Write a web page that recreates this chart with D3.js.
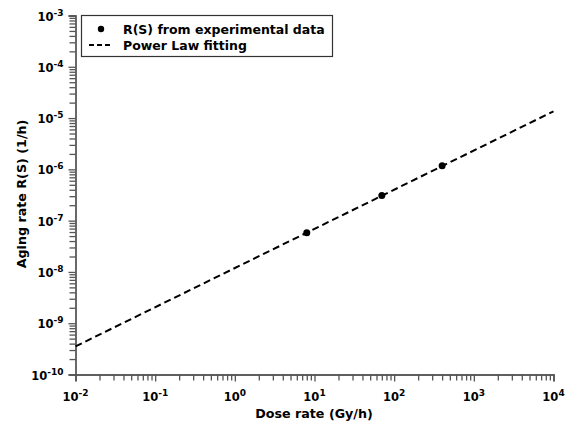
<!DOCTYPE html>
<html><head><meta charset="utf-8">
<script src="https://cdn.jsdelivr.net/npm/d3@7"></script>
<style>body{margin:0;background:#fff}svg{display:block}text{font-family:"DejaVu Sans",Verdana,sans-serif;font-weight:bold}</style>
</head><body>
<script>
const doseRate = [8, 70, 400];
const agingRate = [5.8e-8, 3.1e-7, 1.17e-6];
const fitA = 1.19e-8, fitB = 0.764;
const fitX = [1e-2, 1e4];
const xTickExp = [-2, -1, 0, 1, 2, 3, 4];
const yTickExp = [-10, -9, -8, -7, -6, -5, -4, -3];
const legendLabels = ["R(S) from experimental data", "Power Law fitting"];

const W = 578, H = 425;
const m = {l: 75.5, r: 25, t: 15.5, b: 51.5};
const svg = d3.select("body").append("svg").attr("width", W).attr("height", H);
const x = d3.scaleLog().domain([1e-2, 1e4]).range([m.l, 553.5]);
const y = d3.scaleLog().domain([1e-10, 1e-3]).range([374.5, m.t]);

const minorX = [], minorY = [];
for (let e = -2; e < 4; e++) for (let k = 2; k <= 9; k++) minorX.push(k * Math.pow(10, e));
for (let e = -10; e < -3; e++) for (let k = 2; k <= 9; k++) minorY.push(k * Math.pow(10, e));

const axisCol = "#555";
// x axis
const gx = svg.append("g").attr("transform", `translate(0,${y.range()[0]})`);
gx.call(d3.axisBottom(x).tickValues(minorX).tickSize(6).tickFormat(""));
gx.append("g").call(d3.axisBottom(x).tickValues(xTickExp.map(e => Math.pow(10, e))).tickSize(7).tickFormat(""));
gx.selectAll("path").attr("stroke", axisCol).attr("stroke-width", 1.3);
gx.selectAll("line").attr("stroke", axisCol).attr("stroke-width", 1.3);
const xl = gx.selectAll(".xl").data(xTickExp).enter().append("text")
  .attr("x", d => x(Math.pow(10, d))).attr("y", 26.5).attr("text-anchor", "middle")
  .attr("font-size", 11.5).attr("fill", "#000");
xl.append("tspan").text("10");
xl.append("tspan").attr("dy", -5.5).attr("font-size", 9).text(d => d < 0 ? "-" + (-d) : d);

// y axis
const gy = svg.append("g").attr("transform", `translate(${x.range()[0]},0)`);
gy.call(d3.axisLeft(y).tickValues(minorY).tickSize(6).tickFormat(""));
gy.append("g").call(d3.axisLeft(y).tickValues(yTickExp.map(e => Math.pow(10, e))).tickSize(7).tickFormat(""));
gy.selectAll("path").attr("stroke", axisCol).attr("stroke-width", 1.3);
gy.selectAll("line").attr("stroke", axisCol).attr("stroke-width", 1.3);
const yl = gy.selectAll(".yl").data(yTickExp).enter().append("text")
  .attr("x", -12).attr("y", d => y(Math.pow(10, d)) + 5).attr("text-anchor", "end")
  .attr("font-size", 11.5).attr("fill", "#000");
yl.append("tspan").text("10");
yl.append("tspan").attr("dy", -5).attr("font-size", 9).text(d => "-" + (-d));

// titles
svg.append("text").attr("x", 314).attr("y", 418).attr("text-anchor", "middle").attr("font-size", 12.7).text("Dose rate (Gy/h)");
svg.append("text").attr("transform", `translate(26,194) rotate(-90)`).attr("text-anchor", "middle").attr("font-size", 12.7).text("Aging rate R(S) (1/h)");

// fit line
const line = d3.line().x(d => x(d)).y(d => y(fitA * Math.pow(d, fitB)));
svg.append("path").datum(fitX).attr("d", line).attr("fill", "none").attr("stroke", "#000")
  .attr("stroke-width", 2).attr("stroke-dasharray", "7,4");

// points
svg.selectAll(".pt").data(doseRate).enter().append("circle")
  .attr("cx", d => x(d)).attr("cy", (d, i) => y(agingRate[i])).attr("r", 3.5).attr("fill", "#000");

// legend
const lg = svg.append("g");
lg.append("rect").attr("x", 81.5).attr("y", 15.5).attr("width", 251).attr("height", 41)
  .attr("fill", "#fff").attr("stroke", "#333").attr("stroke-width", 1.2);
lg.append("circle").attr("cx", 101).attr("cy", 29).attr("r", 3.2).attr("fill", "#000");
lg.append("line").attr("x1", 89).attr("x2", 111).attr("y1", 45).attr("y2", 45).attr("stroke", "#000")
  .attr("stroke-width", 1.8).attr("stroke-dasharray", "5,3");
lg.selectAll(".lt").data(legendLabels).enter().append("text")
  .attr("x", 123).attr("y", (d, i) => 34 + i * 16).attr("font-size", 12.5).text(d => d);
</script>
</body></html>
